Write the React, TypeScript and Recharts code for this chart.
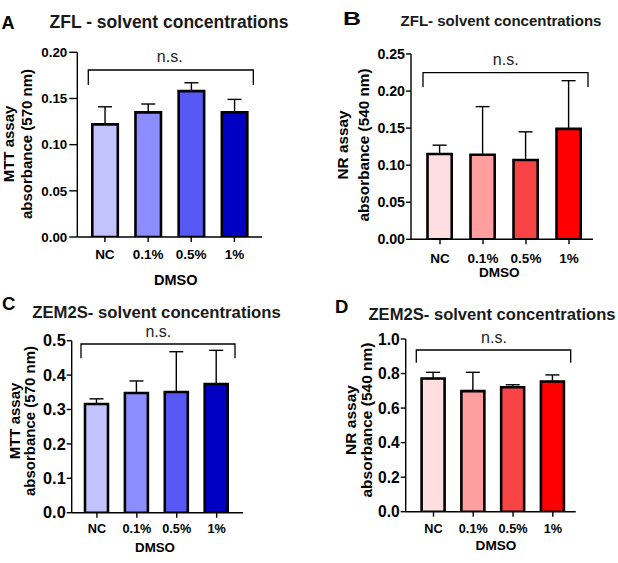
import React from "react";
import { BarChart, Bar, Cell, XAxis, YAxis, ErrorBar } from "recharts";

const CATEGORIES = ["NC", "0.1%", "0.5%", "1%"];

const BLUES = ["#C2C2FF", "#8C8CFF", "#5858F5", "#0000C2"];
const REDS = ["#FFDDE0", "#FF9E9E", "#F84444", "#FF0000"];

// means and upper SD
const zflMttMean = [0.122, 0.135, 0.158, 0.135];
const zflMttSd = [0.019, 0.009, 0.009, 0.014];
const zflNrMean = [0.115, 0.114, 0.107, 0.149];
const zflNrSd = [0.012, 0.065, 0.038, 0.065];
const zemMttMean = [0.316, 0.348, 0.351, 0.374];
const zemMttSd = [0.015, 0.035, 0.117, 0.098];
const zemNrMean = [0.771, 0.698, 0.721, 0.754];
const zemNrSd = [0.036, 0.109, 0.014, 0.038];

const TICKS_A = [0, 0.05, 0.1, 0.15, 0.2];
const TICKS_B = [0, 0.05, 0.1, 0.15, 0.2, 0.25];
const TICKS_C = [0, 0.1, 0.2, 0.3, 0.4, 0.5];
const TICKS_D = [0, 0.2, 0.4, 0.6, 0.8, 1.0];

const W = 618;
const H = 563;
const Y_W = 60;
const X_H = 30;
const FONT = '"Liberation Sans", Arial, sans-serif';

function rows(mean: number[], sd: number[]) {
  return CATEGORIES.map((name, i) => ({ name, mean: mean[i], err: [0, sd[i]] }));
}

interface PanelProps {
  mean: number[];
  sd: number[];
  colors: string[];
  ticks: number[];
  decimals: number;
  plot: { x: number; y: number; w: number; h: number };
  pad: { left: number; right: number };
  barSize: number;
  yTickSize: number;
  yTickMargin: number;
  yFont: number;
  xFont: number;
  xTickMargin: number;
}

function Panel(p: PanelProps) {
  const data = rows(p.mean, p.sd);
  const margin = {
    left: p.plot.x - Y_W,
    top: p.plot.y,
    right: W - (p.plot.x + p.plot.w),
    bottom: H - (p.plot.y + p.plot.h) - X_H,
  };
  return (
    <div style={{ position: "absolute", left: 0, top: 0 }}>
      <BarChart width={W} height={H} data={data} margin={margin}>
        <XAxis
          dataKey="name"
          height={X_H}
          padding={p.pad}
          axisLine={{ stroke: "#000", strokeWidth: 1.4 }}
          tickLine={{ stroke: "#000", strokeWidth: 1.4 }}
          tickSize={5}
          tickMargin={p.xTickMargin}
          tick={{ fill: "#000", fontSize: p.xFont, fontWeight: 700, fontFamily: FONT }}
          interval={0}
        />
        <YAxis
          width={Y_W}
          domain={[0, p.ticks[p.ticks.length - 1]]}
          ticks={p.ticks}
          allowDataOverflow
          axisLine={{ stroke: "#000", strokeWidth: 1.4 }}
          tickLine={{ stroke: "#000", strokeWidth: 1.4 }}
          tickSize={p.yTickSize}
          tickMargin={p.yTickMargin}
          tickFormatter={(v: number) => v.toFixed(p.decimals)}
          tick={{ fill: "#000", fontSize: p.yFont, fontWeight: 700, fontFamily: FONT }}
        />
        <Bar
          dataKey="mean"
          barSize={p.barSize}
          stroke="#000"
          strokeWidth={2.6}
          isAnimationActive={false}
        >
          {data.map((_, i) => (
            <Cell key={i} fill={p.colors[i]} />
          ))}
          <ErrorBar dataKey="err" direction="y" width={7} stroke="#000" strokeWidth={1.4} />
        </Bar>
      </BarChart>
    </div>
  );
}

function YLabel({ x1, x2, cy, size, top, bottom }: any) {
  return (
    <g fontFamily={FONT} fontWeight={700} fontSize={size} fill="#000" textAnchor="middle">
      <text x={x1} y={cy} transform={`rotate(-90 ${x1} ${cy})`}>{top}</text>
      <text x={x2} y={cy} transform={`rotate(-90 ${x2} ${cy})`}>{bottom}</text>
    </g>
  );
}

function Bracket({ x1, x2, y, y2 }: any) {
  return (
    <path
      d={`M${x1} ${y2} L${x1} ${y} L${x2} ${y} L${x2} ${y2}`}
      fill="none"
      stroke="#000"
      strokeWidth={1.3}
    />
  );
}

export default function App() {
  return (
    <div
      style={{
        position: "absolute",
        left: 0,
        top: 0,
        width: W,
        height: H,
        background: "#fff",
        fontFamily: FONT,
      }}
    >
      <Panel
        mean={zflMttMean}
        sd={zflMttSd}
        colors={BLUES}
        ticks={TICKS_A}
        decimals={2}
        plot={{ x: 77.3, y: 52.3, w: 184.7, h: 184.7 }}
        pad={{ left: 6, right: 6 }}
        barSize={25.5}
        yTickSize={8}
        yTickMargin={2}
        yFont={13.4}
        xFont={13.5}
        xTickMargin={7.7}
      />
      <Panel
        mean={zflNrMean}
        sd={zflNrSd}
        colors={REDS}
        ticks={TICKS_B}
        decimals={2}
        plot={{ x: 411, y: 54, w: 182, h: 185.3 }}
        pad={{ left: 7.5, right: 2.5 }}
        barSize={24.2}
        yTickSize={5}
        yTickMargin={1}
        yFont={14.2}
        xFont={13.5}
        xTickMargin={9.4}
      />
      <Panel
        mean={zemMttMean}
        sd={zemMttSd}
        colors={BLUES}
        ticks={TICKS_C}
        decimals={1}
        plot={{ x: 71.7, y: 340.7, w: 171.3, h: 172 }}
        pad={{ left: 5.3, right: 6.4 }}
        barSize={23}
        yTickSize={5}
        yTickMargin={1}
        yFont={16.3}
        xFont={12.7}
        xTickMargin={6.6}
      />
      <Panel
        mean={zemNrMean}
        sd={zemNrSd}
        colors={REDS}
        ticks={TICKS_D}
        decimals={1}
        plot={{ x: 405.7, y: 339, w: 170, h: 172.7 }}
        pad={{ left: 7.9, right: 3 }}
        barSize={23}
        yTickSize={5}
        yTickMargin={1}
        yFont={15.6}
        xFont={12.7}
        xTickMargin={7.6}
      />

      <svg
        width={W}
        height={H}
        style={{ position: "absolute", left: 0, top: 0, pointerEvents: "none" }}
      >
        {/* panel letters */}
        <g fontFamily={FONT} fontWeight={700} fill="#000">
          <text x={1.5} y={29} fontSize={18}>A</text>
          <text x={343} y={25} fontSize={18.5} textLength={18} lengthAdjust="spacingAndGlyphs">B</text>
          <text x={2} y={310} fontSize={18.5}>C</text>
          <text x={335} y={313.3} fontSize={18.5}>D</text>
        </g>

        {/* titles */}
        <g fontFamily={FONT} fontWeight={700} fill="#1a1a1a" textAnchor="middle">
          <text x={169} y={28.3} fontSize={17.5}>ZFL - solvent concentrations</text>
          <text x={501} y={26} fontSize={15}>ZFL- solvent concentrations</text>
          <text x={156.5} y={318.3} fontSize={16.7}>ZEM2S- solvent concentrations</text>
          <text x={492} y={320} fontSize={16.6}>ZEM2S- solvent concentrations</text>
        </g>

        {/* x axis titles */}
        <g fontFamily={FONT} fontWeight={700} fill="#000" textAnchor="middle">
          <text x={175.7} y={285} fontSize={14.5}>DMSO</text>
          <text x={499.3} y={276.7} fontSize={13.6}>DMSO</text>
          <text x={155} y={551.7} fontSize={13.3}>DMSO</text>
          <text x={496} y={550} fontSize={13.6}>DMSO</text>
        </g>

        <YLabel x1={14.3} x2={31.7} cy={144} size={15} top="MTT assay" bottom="absorbance (570 nm)" />
        <YLabel x1={348.3} x2={368.5} cy={145} size={15.3} top="NR assay" bottom="absorbance (540 nm)" />
        <YLabel x1={20} x2={35} cy={421} size={15} top="MTT assay" bottom="absorbance (570 nm)" />
        <YLabel x1={355.7} x2={372.3} cy={420} size={15.5} top="NR assay" bottom="absorbance (540 nm)" />

        {/* significance brackets */}
        <Bracket x1={88.3} x2={253.3} y={70} y2={85} />
        <Bracket x1={423} x2={588} y={72.7} y2={87} />
        <Bracket x1={81} x2={235} y={344} y2={358.3} />
        <Bracket x1={416.3} x2={570.7} y={350} y2={362.7} />
        <g fontFamily={FONT} fontSize={16} fill="#222" textAnchor="middle">
          <text x={169.7} y={62.3}>n.s.</text>
          <text x={505.7} y={65}>n.s.</text>
          <text x={158.3} y={337.3}>n.s.</text>
          <text x={494} y={342.7}>n.s.</text>
        </g>
      </svg>
    </div>
  );
}
